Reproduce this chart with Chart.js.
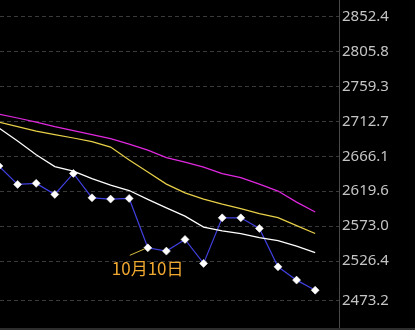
<!DOCTYPE html>
<html>
<head>
<meta charset="utf-8">
<script src="https://cdn.jsdelivr.net/npm/chart.js@4/dist/chart.umd.min.js"></script>
<style>
  html, body { margin: 0; padding: 0; background: #2e2e2e; }
  #wrap { position: relative; width: 415px; height: 328px; background: #000; }
</style>
</head>
<body>
<div id="wrap"><canvas id="c"></canvas></div>
<script>
// Trading days (x categories)
const dates = ['9月20日','9月21日','9月25日','9月26日','9月27日','9月28日','10月8日','10月9日','10月10日',
               '10月11日','10月12日','10月15日','10月16日','10月17日','10月18日','10月19日','10月22日','10月23日'];
// Close price series (blue, diamond markers)
const closeVals = [2653.1,2628.6,2630.0,2615.3,2643.3,2610.7,2609.0,2609.9,2544.0,
                   2539.6,2555.2,2523.2,2584.0,2584.0,2569.9,2518.6,2500.9,2487.5];
// Moving averages
const maWhite   = [2703.8,2686.5,2668.3,2652.4,2646.4,2636.4,2627.7,2620.4,2608.7,
                   2597.3,2586.3,2571.6,2566.6,2562.9,2557.6,2553.6,2546.3,2537.6];
const maYellow  = [2711.8,2705.8,2699.8,2695.1,2690.5,2685.8,2678.4,2661.1,2645.1,
                   2629.0,2617.3,2609.0,2602.3,2596.3,2589.7,2584.3,2573.6,2563.2];
const maMagenta = [2722.5,2717.2,2711.8,2705.8,2700.5,2695.1,2689.8,2682.4,2674.4,
                   2664.4,2658.4,2651.7,2643.1,2637.7,2629.0,2619.7,2605.0,2591.7];
// Y-axis tick labels
const yTicks = [2852.4,2805.8,2759.3,2712.7,2666.1,2619.6,2573.0,2526.4,2473.2];
// Annotation
const annotIndex = 8;
const annotText = '10月10日';

const toXY = arr => arr.map((v, i) => ({x: i, y: v}));

const annotPlugin = {
  id: 'annot',
  afterDatasetsDraw(chart) {
    const {ctx, scales: {x, y}} = chart;
    const px = x.getPixelForValue(annotIndex);
    const py = y.getPixelForValue(closeVals[annotIndex]);
    ctx.save();
    ctx.strokeStyle = '#d8c040';
    ctx.lineWidth = 1;
    ctx.beginPath();
    ctx.moveTo(px - 3, py + 1);
    ctx.lineTo(px - 18, py + 7.5);
    ctx.stroke();
    ctx.fillStyle = '#f0a830';
    ctx.font = '17px "Noto Sans CJK SC", "Noto Sans", sans-serif';
    ctx.textBaseline = 'alphabetic';
    ctx.textAlign = 'left';
    ctx.fillText(annotText, px - 36, py + 27);
    ctx.restore();
  }
};

const lineDs = (data, color, extra) => Object.assign({
  data: toXY(data),
  borderColor: color,
  borderWidth: 1.2,
  pointRadius: 0,
  tension: 0,
  fill: false
}, extra || {});

new Chart(document.getElementById('c'), {
  type: 'line',
  data: {
    labels: dates,
    datasets: [
      lineDs(maMagenta, '#e028e0'),
      lineDs(maYellow, '#e8d048'),
      lineDs(maWhite, '#ffffff'),
      lineDs(closeVals, '#4040e0', {
        pointRadius: 4,
        pointHoverRadius: 4,
        pointStyle: 'rectRot',
        pointBackgroundColor: '#ffffff',
        pointBorderColor: '#ffffff',
        pointBorderWidth: 0.5
      })
    ]
  },
  options: {
    responsive: true,
    maintainAspectRatio: false,
    animation: false,
    layout: { padding: 0, autoPadding: false },
    plugins: { legend: { display: false }, tooltip: { enabled: false } },
    scales: {
      x: {
        type: 'linear',
        display: false,
        min: 0.054,
        max: 18.28
      },
      y: {
        position: 'right',
        min: 2437,
        max: 2874.7,
        afterBuildTicks(scale) { scale.ticks = yTicks.map(v => ({value: v})); },
        afterFit(scale) {
          scale.width = 76;
          scale.paddingTop = 0;
          scale.paddingBottom = 0;
        },
        grid: {
          color: '#3a3a3a',
          lineWidth: 1,
          drawTicks: false
        },
        border: {
          display: true,
          color: '#4a4a4a',
          width: 1,
          dash: [4, 3]
        },
        ticks: {
          padding: 3,
          color: '#c4c4c4',
          font: { family: '"Noto Sans", "DejaVu Sans", sans-serif', size: 15 },
          callback: v => Number(v).toFixed(1)
        }
      }
    }
  },
  plugins: [annotPlugin]
});
</script>
</body>
</html>
